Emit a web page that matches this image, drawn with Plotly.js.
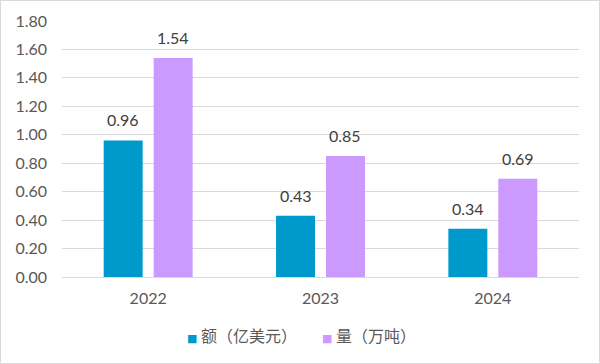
<!DOCTYPE html>
<html>
<head>
<meta charset="utf-8">
<script src="https://cdn.plot.ly/plotly-3.0.1.min.js"></script>
<style>
html,body{margin:0;padding:0;background:#fff;}
#wrap{position:relative;width:600px;height:364px;}
#chart{position:absolute;left:0;top:0;width:600px;height:364px;}
#frame{position:absolute;left:0;top:0;width:598px;height:362px;border:1px solid #d9d9d9;pointer-events:none;}
</style>
</head>
<body>
<div id="wrap"><div id="chart"></div><div id="frame"></div></div>
<script>
const years = ['2022', '2023', '2024'];
const amountValues = [0.96, 0.43, 0.34];
const volumeValues = [1.54, 0.85, 0.69];
const seriesNames = ['额（亿美元）', '量（万吨）'];
const seriesColors = ['#0099CC', '#CC99FF'];
const yTicks = [0, 0.2, 0.4, 0.6, 0.8, 1.0, 1.2, 1.4, 1.6, 1.8];

const numFont = 'Lato, "Liberation Sans", sans-serif';
const series = [amountValues, volumeValues];

const traces = series.map((vals, i) => ({
  type: 'bar', name: seriesNames[i], x: years, y: vals,
  marker: {color: seriesColors[i]}, hoverinfo: 'none'
}));

// value labels above bars (x given as category index)
const annotations = [];
const barShift = [-24.9, 24.9];
series.forEach((vals, i) => {
  vals.forEach((v, j) => {
    annotations.push({
      x: j, y: v, xref: 'x', yref: 'y', xshift: barShift[i], yshift: 9,
      yanchor: 'bottom', xanchor: 'center', showarrow: false,
      text: v.toFixed(2), font: {family: numFont, size: 16, color: '#404040'}
    });
  });
});

// legend built from series names
const legendX = [0.238, 0.499];
seriesNames.forEach((name, i) => {
  annotations.push({
    x: legendX[i], y: -0.227, xref: 'paper', yref: 'paper', xanchor: 'left', yanchor: 'middle',
    showarrow: false,
    text: '<span style="color:' + seriesColors[i] + ';font-size:11px;font-family:DejaVu Sans">■</span> ' + name,
    font: {family: '"Noto Sans CJK SC", sans-serif', size: 16, color: '#595959'}
  });
});

const layout = {
  width: 600, height: 364,
  margin: {l: 62, r: 21, t: 21, b: 87},
  paper_bgcolor: '#ffffff', plot_bgcolor: '#ffffff',
  barmode: 'group', bargap: 0.42, bargroupgap: 0.22,
  showlegend: false,
  annotations: annotations,
  xaxis: {type: 'category', range: [-0.5, 2.5], showgrid: false, zeroline: false, showline: false,
    ticks: '', ticklabelstandoff: 10,
    tickfont: {family: numFont, size: 16, color: '#595959'}},
  yaxis: {range: [0, 1.8], tickvals: yTicks, ticktext: yTicks.map(v => v.toFixed(2)),
    showgrid: true, gridcolor: '#d9d9d9', gridwidth: 1, zeroline: true, zerolinecolor: '#d9d9d9',
    showline: false, ticks: '', ticklabelstandoff: 14,
    tickfont: {family: numFont, size: 16, color: '#595959'}}
};

Plotly.newPlot('chart', traces, layout, {displayModeBar: false, staticPlot: true});
</script>
</body>
</html>
